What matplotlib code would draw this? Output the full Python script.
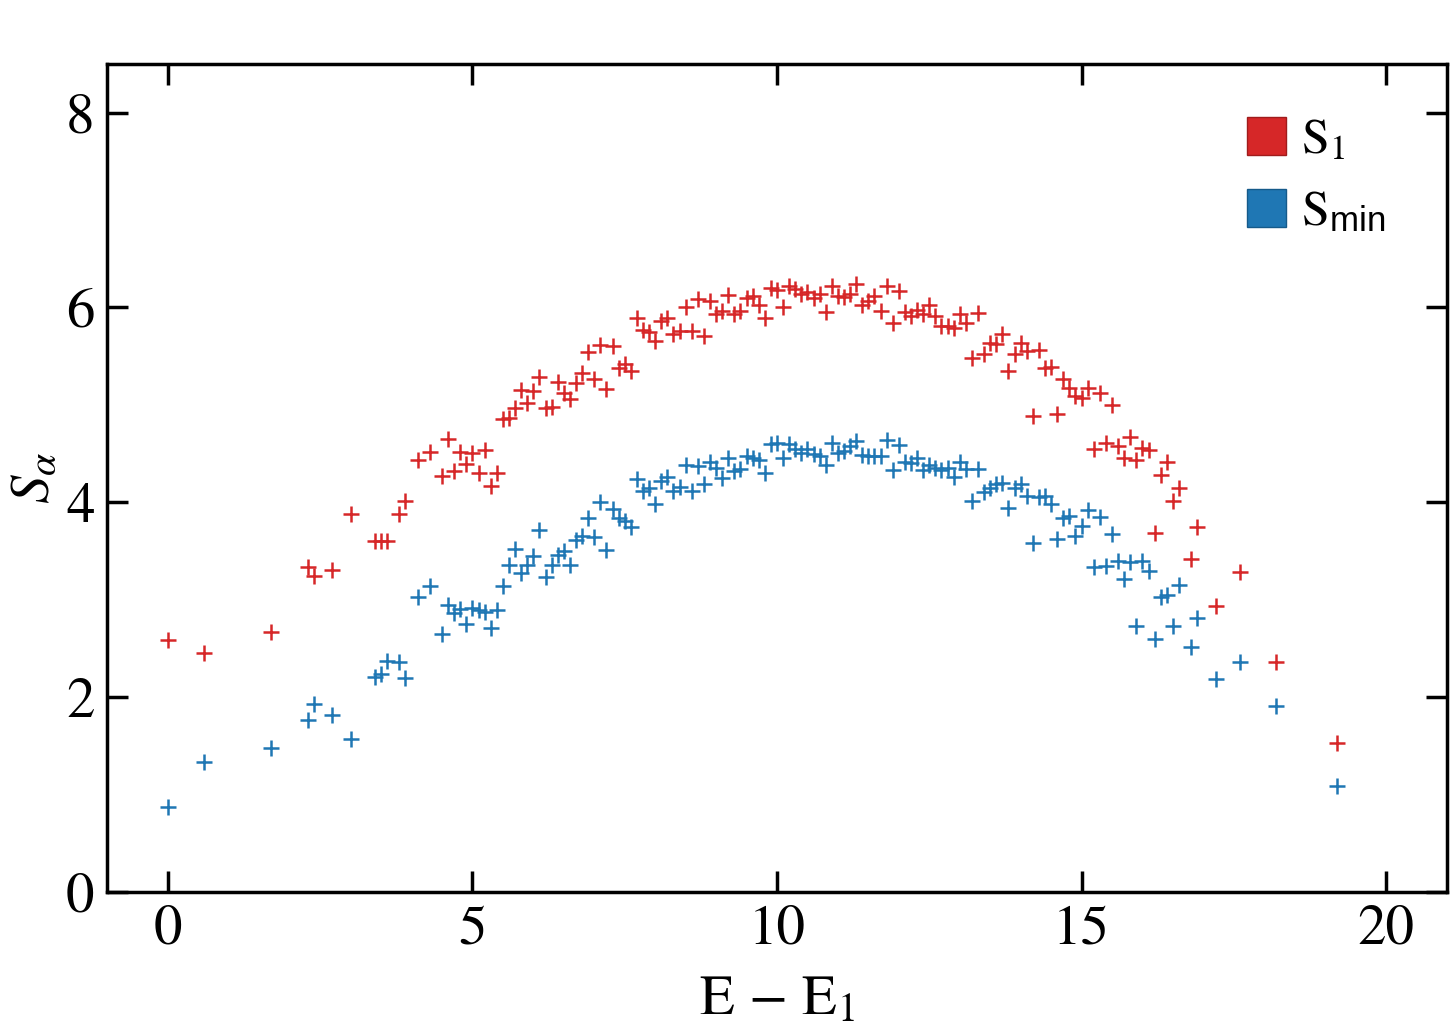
import matplotlib
matplotlib.use('Agg')
import matplotlib.pyplot as plt
from matplotlib.patches import Patch

plt.rcParams['font.family'] = 'STIXGeneral'
plt.rcParams['mathtext.fontset'] = 'custom'
plt.rcParams['mathtext.rm'] = 'STIXGeneral'
plt.rcParams['mathtext.it'] = 'STIXGeneral:italic'
plt.rcParams['mathtext.sf'] = 'Liberation Sans'

# energy differences E - E1 (shared by both series)
energy = [0.0, 0.6, 1.7, 2.3, 2.4, 2.7, 3.0, 3.4, 3.5, 3.6, 3.8, 3.9, 4.1, 4.3,
          4.5, 4.6, 4.7, 4.8, 4.9, 5.0, 5.1, 5.2, 5.3, 5.4, 5.5, 5.6, 5.7, 5.8, 5.9,
          6.0, 6.1, 6.2, 6.3, 6.4, 6.5, 6.6, 6.7, 6.8, 6.9, 7.0, 7.1, 7.2, 7.3, 7.4,
          7.5, 7.6, 7.7, 7.8, 7.9, 8.0, 8.1, 8.2, 8.3, 8.4, 8.5, 8.6, 8.7, 8.8, 8.9,
          9.0, 9.1, 9.2, 9.3, 9.4, 9.5, 9.6, 9.7, 9.8, 9.9, 10.0, 10.1, 10.2, 10.3,
          10.4, 10.5, 10.6, 10.7, 10.8, 10.9, 11.0, 11.1, 11.2, 11.3, 11.4, 11.5,
          11.6, 11.7, 11.8, 11.9, 12.0, 12.1, 12.2, 12.3, 12.4, 12.5, 12.6, 12.7,
          12.8, 12.9, 13.0, 13.1, 13.2, 13.3, 13.4, 13.5, 13.6, 13.7, 13.8, 13.9,
          14.0, 14.1, 14.2, 14.3, 14.4, 14.5, 14.6, 14.7, 14.8, 14.9, 15.0, 15.1,
          15.2, 15.3, 15.4, 15.5, 15.6, 15.7, 15.8, 15.9, 16.0, 16.1, 16.2, 16.3,
          16.4, 16.5, 16.6, 16.8, 16.9, 17.2, 17.6, 18.2, 19.2]

s1 = [2.59, 2.45, 2.67, 3.34, 3.24, 3.31, 3.88, 3.60, 3.60, 3.60, 3.88, 4.01, 4.43, 4.52,
      4.27, 4.65, 4.32, 4.52, 4.39, 4.51, 4.30, 4.54, 4.17, 4.30, 4.86, 4.87, 4.97, 5.15, 5.02,
      5.14, 5.29, 4.97, 4.98, 5.23, 5.12, 5.06, 5.22, 5.33, 5.54, 5.27, 5.62, 5.16, 5.60, 5.38,
      5.42, 5.35, 5.89, 5.77, 5.75, 5.66, 5.86, 5.89, 5.73, 5.76, 6.01, 5.76, 6.09, 5.71, 6.07,
      5.93, 5.96, 6.13, 5.93, 5.96, 6.10, 6.12, 6.03, 5.89, 6.20, 6.18, 6.00, 6.22, 6.19,
      6.14, 6.16, 6.10, 6.14, 5.95, 6.22, 6.12, 6.11, 6.14, 6.24, 6.03, 6.07,
      6.12, 5.96, 6.22, 5.84, 6.17, 5.95, 5.91, 5.97, 5.93, 6.03, 5.91, 5.81,
      5.81, 5.79, 5.93, 5.84, 5.48, 5.94, 5.52, 5.64, 5.63, 5.73, 5.35, 5.52,
      5.64, 5.55, 4.89, 5.56, 5.38, 5.39, 4.91, 5.27, 5.17, 5.09, 5.07, 5.17,
      4.55, 5.12, 4.61, 5.00, 4.58, 4.46, 4.67, 4.43, 4.56, 4.54, 3.69, 4.28,
      4.41, 4.01, 4.15, 3.42, 3.75, 2.94, 3.28, 2.36, 1.53]

s_min = [0.87, 1.33, 1.48, 1.77, 1.93, 1.82, 1.57, 2.21, 2.24, 2.37, 2.36, 2.20, 3.03, 3.14,
         2.65, 2.95, 2.86, 2.91, 2.75, 2.92, 2.89, 2.87, 2.71, 2.89, 3.14, 3.36, 3.52, 3.27, 3.36,
         3.45, 3.72, 3.23, 3.36, 3.46, 3.50, 3.36, 3.61, 3.65, 3.84, 3.64, 4.00, 3.51, 3.93, 3.84,
         3.81, 3.75, 4.24, 4.12, 4.15, 3.98, 4.22, 4.26, 4.12, 4.16, 4.38, 4.12, 4.37, 4.19, 4.41,
         4.35, 4.25, 4.46, 4.32, 4.34, 4.48, 4.46, 4.43, 4.30, 4.60, 4.61, 4.46, 4.60, 4.55,
         4.51, 4.55, 4.50, 4.48, 4.38, 4.61, 4.51, 4.53, 4.58, 4.63, 4.49, 4.48,
         4.48, 4.48, 4.64, 4.33, 4.59, 4.41, 4.40, 4.46, 4.33, 4.38, 4.35, 4.33,
         4.35, 4.26, 4.41, 4.34, 4.01, 4.34, 4.11, 4.15, 4.19, 4.20, 3.94, 4.15,
         4.19, 4.06, 3.58, 4.05, 4.06, 3.98, 3.62, 3.84, 3.86, 3.65, 3.76, 3.92,
         3.34, 3.85, 3.35, 3.68, 3.40, 3.21, 3.39, 2.73, 3.40, 3.30, 2.60, 3.03,
         3.05, 2.73, 3.15, 2.52, 2.81, 2.19, 2.36, 1.91, 1.09]

red = '#d62728'
blue = '#1f77b4'

fig = plt.figure(figsize=(14.53, 10.31), dpi=100)
ax = fig.add_axes([0.0736, 0.1348, 0.9223, 0.8032])

ax.plot(energy, s1, '+', color=red, markersize=11, markeredgewidth=1.8)
ax.plot(energy, s_min, '+', color=blue, markersize=11, markeredgewidth=1.8)

ax.set_xlim(-1, 21)
ax.set_ylim(0, 8.5)
ax.set_xticks([0, 5, 10, 15, 20])
ax.set_yticks([0, 2, 4, 6, 8])

for sp in ax.spines.values():
    sp.set_linewidth(2.5)
ax.tick_params(direction='in', length=15, width=2.5, labelsize=41,
               top=True, right=True, pad=9)

ax.set_xlabel(r'E $-$ E$_1$', fontsize=41, labelpad=15)
ax.set_ylabel(r'$S_\alpha$', fontsize=41, labelpad=4)

handles = [Patch(facecolor=red, edgecolor='#a01c1c', label=r'S$_1$'),
           Patch(facecolor=blue, edgecolor='#155a8a', label=r'S$_{\mathsf{min}}$')]
ax.legend(handles=handles, loc='upper left', frameon=False, fontsize=36,
          handlelength=0.78, handleheight=0.78, handletextpad=0.3,
          labelspacing=0.5, borderpad=0, borderaxespad=0,
          bbox_to_anchor=(0.851, 0.936))

fig.savefig('out.png', dpi=100)
